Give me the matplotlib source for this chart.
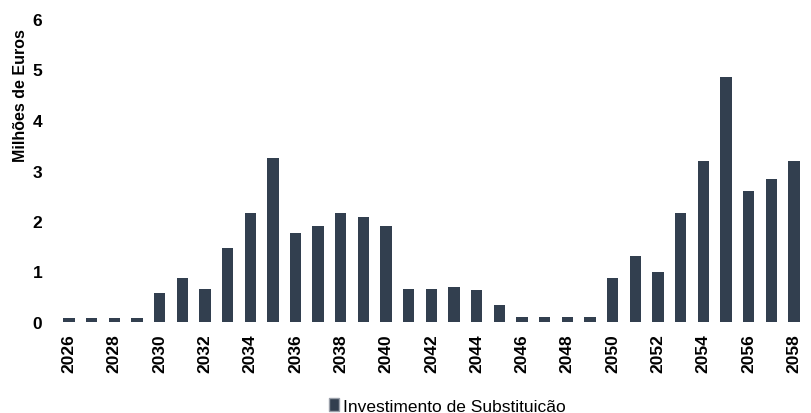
import matplotlib
matplotlib.use("Agg")
import matplotlib.pyplot as plt
from matplotlib.patches import Patch

# Replacement investment per year (millions of euros)
years = list(range(2026, 2060))
invest = [0.07, 0.07, 0.07, 0.07, 0.58, 0.87, 0.66, 1.47, 2.15, 3.24,
          1.76, 1.91, 2.15, 2.07, 1.91, 0.65, 0.65, 0.69, 0.63, 0.34,
          0.09, 0.09, 0.09, 0.09, 0.87, 1.30, 1.00, 2.15, 3.19, 4.85,
          2.60, 2.84, 3.19, 3.06]
tick_years = list(range(2026, 2060, 2))
y_ticks = [0, 1, 2, 3, 4, 5, 6]

bar_color = "#323f4f"
plt.rcParams["font.family"] = ["Liberation Sans", "DejaVu Sans"]

fig = plt.figure(figsize=(8.12, 4.14), dpi=100)
ax = fig.add_axes([55 / 812, 91 / 414, 757 / 812, 303 / 414])

x = list(range(len(years)))
ax.bar(x, invest, width=0.5, color=bar_color)

ax.set_xlim(-0.617, 32.8)
ax.set_ylim(0, 6)
ax.set_yticks(y_ticks)
ax.set_yticklabels([str(v) for v in y_ticks], fontsize=12.5, fontweight="bold")
ax.set_xticks([years.index(y) for y in tick_years])
ax.set_xticklabels([str(y) for y in tick_years], rotation=90, fontsize=12.5,
                   fontweight="bold")
ax.tick_params(axis="x", length=0, pad=8)
ax.tick_params(axis="y", length=0, pad=9)
for s in ax.spines.values():
    s.set_visible(False)

ax.set_ylabel("Milhões de Euros", fontsize=11.5, fontweight="bold")
ax.yaxis.set_label_coords(-0.036, 0.75)

handle = Patch(facecolor=bar_color, edgecolor="#9aa0aa")
fig.legend([handle], ["Investimento de Substituicão"], loc="center",
           bbox_to_anchor=(447 / 812, 7 / 414), frameon=False,
           handlelength=0.6, handleheight=0.7, handletextpad=0.2,
           prop={"size": 12.5})

fig.savefig("out.png", dpi=100)
